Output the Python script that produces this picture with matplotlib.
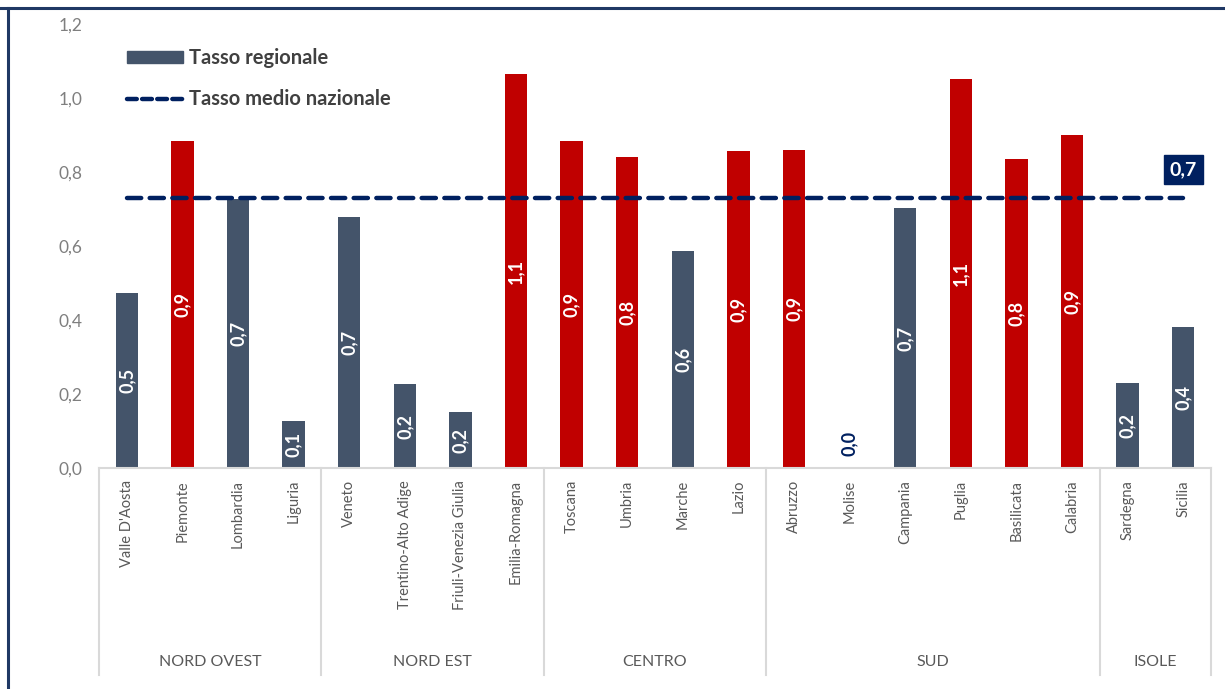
import matplotlib
matplotlib.use("Agg")
import matplotlib.pyplot as plt
from matplotlib.lines import Line2D
from matplotlib.patches import Patch
import matplotlib.transforms as mtransforms

plt.rcParams["font.family"] = ["Lato", "DejaVu Sans"]

# Regions and their rate
regions = ["Valle D'Aosta", "Piemonte", "Lombardia", "Liguria",
           "Veneto", "Trentino-Alto Adige", "Friuli-Venezia Giulia", "Emilia-Romagna",
           "Toscana", "Umbria", "Marche", "Lazio",
           "Abruzzo", "Molise", "Campania", "Puglia", "Basilicata", "Calabria",
           "Sardegna", "Sicilia"]
rates = [0.474, 0.883, 0.727, 0.127,
         0.678, 0.227, 0.151, 1.065,
         0.884, 0.840, 0.586, 0.857,
         0.860, 0.000, 0.703, 1.052, 0.835, 0.900,
         0.230, 0.381]
national_rate = 0.731

# Macro-areas: name and number of regions
groups = ["NORD OVEST", "NORD EST", "CENTRO", "SUD", "ISOLE"]
group_sizes = [4, 4, 4, 6, 2]

yticks = [0.0, 0.2, 0.4, 0.6, 0.8, 1.0, 1.2]

RED = "#C00000"
SLATE = "#44546A"
NAVY = "#002060"
GREY_TXT = "#595959"
AXIS_GREY = "#D9D9D9"

fig = plt.figure(figsize=(12.25, 6.89), dpi=100)
ax = fig.add_axes([99 / 1225, 1 - 468 / 689, 1112 / 1225, 444 / 689])

x = list(range(len(regions)))
colors = [RED if v > national_rate else SLATE for v in rates]
ax.bar(x, rates, width=0.4, color=colors, zorder=2)

# National average line
ax.plot([x[0], x[-1]], [national_rate, national_rate], color=NAVY, lw=3.2,
        dashes=(3.2, 1.9), dash_capstyle="round", zorder=3)
ax.annotate(f"{national_rate:.1f}".replace(".", ","), xy=(x[-1], national_rate),
            xytext=(0, 20), textcoords="offset points", ha="center", va="center",
            color="white", fontsize=14, fontweight="bold", zorder=4,
            bbox=dict(boxstyle="square,pad=0.3", fc=NAVY, ec=NAVY))

# Value labels inside bars
for xi, v in zip(x, rates):
    txt = f"{v:.1f}".replace(".", ",")
    if v > 0.05:
        ax.text(xi, v / 2, txt, rotation=90, ha="center", va="center",
                color="white", fontsize=13, fontweight="bold", zorder=4)
    else:
        ax.annotate(txt, xy=(xi, 0), xytext=(0, 9), textcoords="offset points",
                    rotation=90, ha="center", va="bottom", color=NAVY,
                    fontsize=13, fontweight="bold", zorder=4)

ax.set_xlim(-0.5, len(regions) - 0.5)
ax.set_ylim(0, 1.2)
ax.set_yticks(yticks)
ax.set_yticklabels([f"{t:.1f}".replace(".", ",") for t in yticks],
                   color="#7F7F7F", fontsize=12.5)
ax.tick_params(axis="y", length=0, pad=12)
ax.set_xticks([])
for s in ["top", "right", "left"]:
    ax.spines[s].set_visible(False)
ax.spines["bottom"].set_color(AXIS_GREY)
ax.spines["bottom"].set_linewidth(1.5)

# Two-level category axis
trans = mtransforms.blended_transform_factory(ax.transData, ax.transAxes)
for xi, name in zip(x, regions):
    ax.text(xi, -0.027, name, rotation=90, ha="center", va="top",
            color=GREY_TXT, fontsize=10.5, transform=trans, clip_on=False)

start = -0.5
bounds = [start]
for g, n in zip(groups, group_sizes):
    end = start + n
    ax.text((start + end) / 2, -0.437, g, ha="center", va="center",
            color=GREY_TXT, fontsize=11.5, transform=trans, clip_on=False)
    bounds.append(end)
    start = end
for b in bounds:
    ax.add_line(Line2D([b, b], [0, -0.466], color=AXIS_GREY, lw=1.5,
                       transform=trans, clip_on=False))

# Legend
handles = [Patch(facecolor=SLATE, edgecolor=SLATE),
           Line2D([], [], color=NAVY, lw=3.2, dashes=(2.2, 1.2), dash_capstyle="round")]
leg = ax.legend(handles, ["Tasso regionale", "Tasso medio nazionale"],
                loc="upper left", bbox_to_anchor=(0.025, 0.946), frameon=False,
                handlelength=2.8, handleheight=0.52, handletextpad=0.3,
                labelspacing=1.05, borderpad=0, borderaxespad=0,
                prop=dict(size=14.5, weight="bold"))
for t in leg.get_texts():
    t.set_color("#404040")

# Frame around the chart
fig.add_artist(Line2D([0, 1], [1 - 8 / 689, 1 - 8 / 689], color="#1F3864", lw=2.2,
                      transform=fig.transFigure))
fig.add_artist(Line2D([8 / 1225, 8 / 1225], [0, 1 - 8 / 689], color="#1F3864", lw=2.2,
                      transform=fig.transFigure))

fig.savefig("out.png", dpi=100)
